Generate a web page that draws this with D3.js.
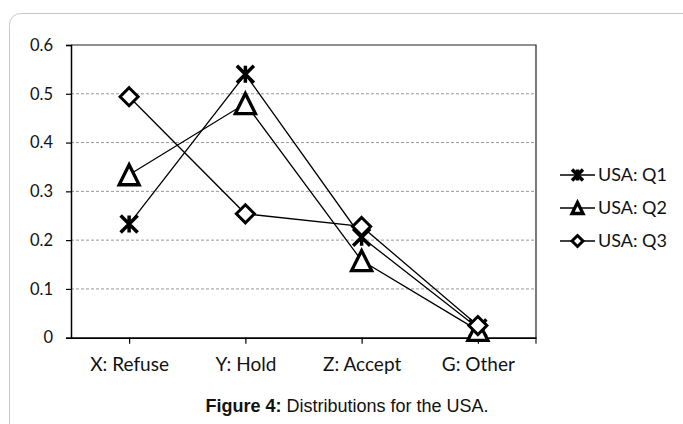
<!DOCTYPE html>
<html>
<head>
<meta charset="utf-8">
<script src="https://cdn.jsdelivr.net/npm/d3@7/dist/d3.min.js"></script>
<style>
  html, body { margin: 0; padding: 0; background: #fff; }
  svg { display: block; }
</style>
</head>
<body>
<svg id="chart" width="683" height="424"></svg>
<script>
// Response categories on the x axis
const categories = ["X: Refuse", "Y: Hold", "Z: Accept", "G: Other"];

// Share of responses per question
const seriesNames = ["USA: Q1", "USA: Q2", "USA: Q3"];
const q1Values = [0.233, 0.54, 0.206, 0.02];
const q2Values = [0.334, 0.48, 0.158, 0.015];
const q3Values = [0.494, 0.254, 0.228, 0.025];
const seriesMarkers = ["star", "triangle", "diamond"];

// Y axis ticks
const yTicks = [0, 0.1, 0.2, 0.3, 0.4, 0.5, 0.6];
const yTickLabels = ["0", "0.1", "0.2", "0.3", "0.4", "0.5", "0.6"];

const captionBold = "Figure 4:";
const captionText = " Distributions for the USA.";

const series = seriesNames.map((name, i) => ({
  name,
  values: [q1Values, q2Values, q3Values][i],
  marker: seriesMarkers[i]
}));

const svg = d3.select("#chart");
const plot = { left: 71, right: 536, top: 45, bottom: 337.7 };

// Panel frame
svg.append("rect")
  .attr("x", 9.5).attr("y", 13.5)
  .attr("width", 700).attr("height", 440)
  .attr("rx", 11).attr("ry", 11)
  .attr("fill", "#fff")
  .attr("stroke", "#c8c8c8")
  .attr("stroke-width", 1);

const x = d3.scalePoint().domain(categories).range([plot.left, plot.right]).padding(0.5);
const y = d3.scaleLinear().domain([0, 0.6]).range([plot.bottom, plot.top]);

// Dashed horizontal gridlines
svg.append("g")
  .selectAll("line")
  .data(yTicks.filter(d => d > 0 && d < 0.6))
  .join("line")
  .attr("x1", plot.left).attr("x2", plot.right)
  .attr("y1", d => y(d)).attr("y2", d => y(d))
  .attr("stroke", "#999")
  .attr("stroke-width", 1)
  .attr("stroke-dasharray", "3,2");

// Plot border (top and right)
svg.append("path")
  .attr("d", `M${plot.left},${y(0.6)}H${plot.right}V${plot.bottom + 6}`)
  .attr("fill", "none")
  .attr("stroke", "#222")
  .attr("stroke-width", 1.2);

// Y axis
const yAxis = d3.axisLeft(y)
  .tickValues(yTicks)
  .tickFormat((d, i) => yTickLabels[i])
  .tickSize(5)
  .tickPadding(13);
const gy = svg.append("g").attr("transform", `translate(${plot.left},0)`).call(yAxis);
gy.select(".domain").attr("stroke", "#000").attr("stroke-width", 1.5);
gy.selectAll(".tick line").attr("stroke", "#000").attr("stroke-width", 1.2);
gy.selectAll(".tick text")
  .attr("font-family", "Lato, 'Open Sans', sans-serif")
  .attr("font-size", 16.5)
  .attr("fill", "#111");

// X axis
const xAxis = d3.axisBottom(x).tickSize(6).tickSizeOuter(0).tickPadding(14);
const gx = svg.append("g").attr("transform", `translate(0,${plot.bottom})`).call(xAxis);
gx.select(".domain").attr("stroke", "#000").attr("stroke-width", 1.8);
gx.selectAll(".tick line").attr("stroke", "#000").attr("stroke-width", 1.2);
gx.selectAll(".tick text")
  .attr("font-family", "Lato, 'Open Sans', sans-serif")
  .attr("font-size", 19)
  .attr("fill", "#111");

// Marker shapes
function drawMarker(g, type, size, sw) {
  const h = size / 2;
  if (type === "star") {
    g.append("path")
      .attr("d", `M${-h},${-h}L${h},${h}M${h},${-h}L${-h},${h}M0,${-h}V${h}`)
      .attr("fill", "none")
      .attr("stroke", "#000")
      .attr("stroke-width", sw + 0.5);
  } else if (type === "triangle") {
    g.append("path")
      .attr("d", `M0,${-h}L${h},${h}L${-h},${h}Z`)
      .attr("fill", "#fff")
      .attr("stroke", "#000")
      .attr("stroke-width", sw + 0.3)
      .attr("stroke-linejoin", "miter");
  } else {
    g.append("path")
      .attr("d", `M0,${-h}L${h},0L0,${h}L${-h},0Z`)
      .attr("fill", "#fff")
      .attr("stroke", "#000")
      .attr("stroke-width", sw)
      .attr("stroke-linejoin", "miter");
  }
}

const line = d3.line()
  .x((d, i) => x(categories[i]))
  .y(d => y(d));

const markerSize = { star: 17, triangle: 20, diamond: 18 };

series.forEach(s => {
  const g = svg.append("g");
  g.append("path")
    .attr("d", line(s.values))
    .attr("fill", "none")
    .attr("stroke", "#000")
    .attr("stroke-width", 1.3);
  s.values.forEach((v, i) => {
    const m = g.append("g").attr("transform", `translate(${x(categories[i])},${y(v)})`);
    drawMarker(m, s.marker, markerSize[s.marker], 3);
  });
});

// Legend
const legendY = [175, 208, 241];
series.forEach((s, i) => {
  const g = svg.append("g").attr("transform", `translate(560,${legendY[i]})`);
  g.append("line")
    .attr("x1", 0).attr("x2", 35)
    .attr("y1", 0).attr("y2", 0)
    .attr("stroke", "#000").attr("stroke-width", 1.3);
  const m = g.append("g").attr("transform", "translate(17.5,0)");
  drawMarker(m, s.marker, 11, 3);
  g.append("text")
    .attr("x", 38).attr("y", 0)
    .attr("dy", "0.35em")
    .attr("font-family", "Lato, 'Open Sans', sans-serif")
    .attr("font-size", 18)
    .attr("fill", "#111")
    .text(s.name);
});

// Caption
const cap = svg.append("text")
  .attr("x", 347).attr("y", 411.5)
  .attr("text-anchor", "middle")
  .attr("font-family", "'Liberation Sans', Arial, sans-serif")
  .attr("font-size", 18)
  .attr("fill", "#111");
cap.append("tspan").attr("font-weight", "bold").text(captionBold);
cap.append("tspan").text(captionText);
</script>
</body>
</html>
